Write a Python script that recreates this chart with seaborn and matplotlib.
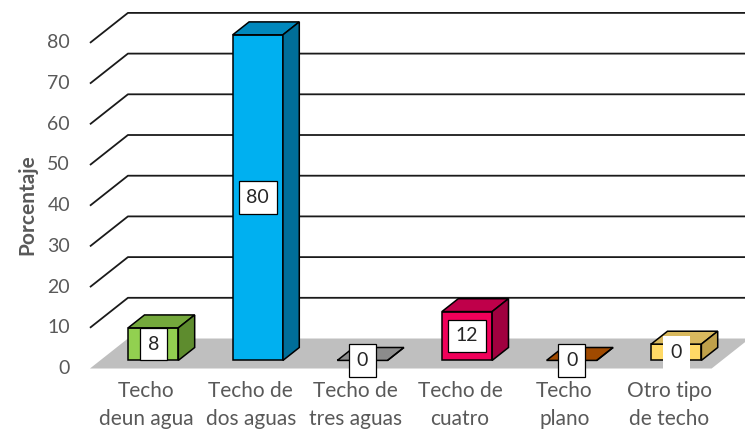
import matplotlib
matplotlib.use('Agg')
import matplotlib.pyplot as plt
from matplotlib.patches import Polygon
import seaborn as sns

# Data
categorias = ["Techo\ndeun agua", "Techo de\ndos aguas", "Techo de\ntres aguas",
              "Techo de\ncuatro", "Techo\nplano", "Otro tipo\nde techo"]
porcentajes = [8, 80, 0, 12, 0, 4]
etiquetas = ["8", "80", "0", "12", "0", "0"]
y_ticks = [0, 10, 20, 30, 40, 50, 60, 70, 80]

# Colours: front face, top face, side face
color_frente = ["#92D050", "#00B0F0", "#A6A6A6", "#F0005A", "#A5500C", "#FFD966"]
color_techo = ["#74A83C", "#0088BD", "#8C8C8C", "#BF004A", "#A04A00", "#D9B95E"]
color_lado = ["#5E8C2E", "#006E99", "#7F7F7F", "#A0003F", "#8A3F00", "#BFA04A"]
borde_etiqueta = ["black", "black", "black", "black", "black", "none"]

sns.set_style('white')
plt.rcParams['font.family'] = ['Lato', 'DejaVu Sans']

gris = '#595959'

# depth of the 3D box (in data units) and where the bars sit inside it
DX, DY = 0.363, 7.37
d0, d1 = 0.27, 0.70
x_izq, x_der = -0.507, 5.436

fig = plt.figure(figsize=(7.45, 4.37), dpi=100)
ax = fig.add_axes([0, 0, 1, 1])

# front faces through seaborn
sns.barplot(x=categorias, y=porcentajes, hue=categorias, palette=color_frente,
            legend=False, width=0.48, saturation=1, edgecolor='black',
            linewidth=1.1, ax=ax)

ax.set_xlim(-1.367, 5.755)
ax.set_ylim(-16.83, 90.54)
ax.set_axis_off()

# floor
piso = Polygon([(x_izq, 0), (x_der, 0), (x_der + DX, DY), (x_izq + DX, DY)],
               closed=True, fc='#BFBFBF', ec='none', zorder=1)
ax.add_patch(piso)

# gridlines: diagonal on the side wall + horizontal on the back wall
for v in y_ticks:
    if v > 0:
        ax.plot([x_izq, x_izq + DX, 5.9], [v, v + DY, v + DY],
                color='#1a1a1a', lw=1.3, zorder=0.5, solid_capstyle='butt')
    ax.text((70 - 143) / 104.6, v, str(v), ha='right', va='center',
            fontsize=14, color=gris)

ddx, ddy = (d1 - d0) * DX, (d1 - d0) * DY
for p in list(ax.patches):
    if not hasattr(p, 'get_width') or p is piso:
        continue
    i = int(round(p.get_x() + p.get_width() / 2))
    w = p.get_width()
    h = porcentajes[i]
    x0 = p.get_x() + d0 * DX
    y0 = d0 * DY
    p.set_x(x0)
    p.set_y(y0)
    p.set_zorder(3)
    techo = Polygon([(x0, y0 + h), (x0 + w, y0 + h), (x0 + w + ddx, y0 + h + ddy),
                     (x0 + ddx, y0 + h + ddy)], closed=True,
                    fc=color_techo[i], ec='black', lw=1.1, zorder=3)
    lado = Polygon([(x0 + w, y0), (x0 + w, y0 + h), (x0 + w + ddx, y0 + h + ddy),
                    (x0 + w + ddx, y0 + ddy)], closed=True,
                   fc=color_lado[i], ec='black', lw=1.1, zorder=3)
    ax.add_patch(techo)
    ax.add_patch(lado)
    ax.text(x0 + w / 2, y0 + h / 2, etiquetas[i], ha='center', va='center',
            fontsize=14, color='#262626', zorder=6,
            bbox=dict(boxstyle='square,pad=0.4', fc='white',
                      ec=borde_etiqueta[i], lw=0.9))

# category labels
for i, cat in enumerate(categorias):
    ax.text(i + 0.03, -3.0, cat, ha='center', va='top', fontsize=15,
            color=gris, linespacing=1.5)

ax.text((27 - 143) / 104.6, 40.2, "Porcentaje", rotation=90, ha='center',
        va='center', fontsize=15, fontweight='bold', color=gris)

plt.savefig('out.png', dpi=100)
